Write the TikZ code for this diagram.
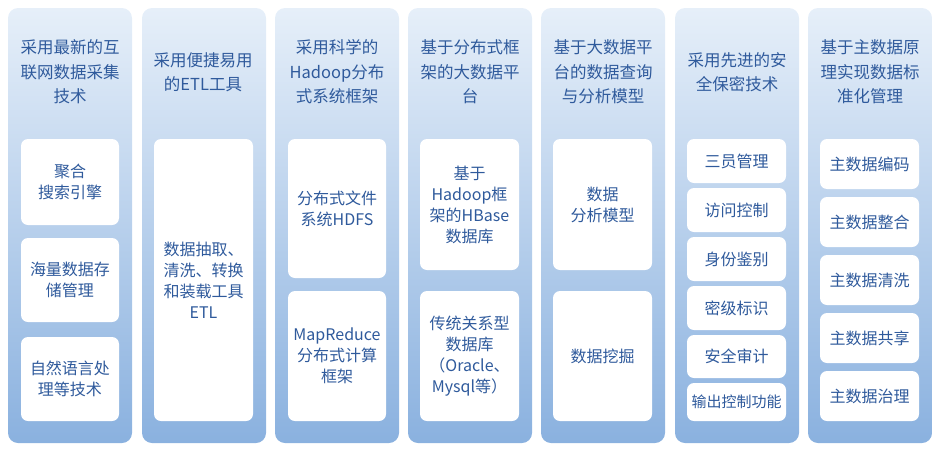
\documentclass[tikz,border=0pt]{standalone}
\usepackage{fontspec}
\setmainfont{Noto Sans CJK SC}
\definecolor{txt}{HTML}{2F5A9C}
\definecolor{topc}{HTML}{E6EFF9}
\definecolor{botc}{HTML}{8AB1DF}
\begin{document}
\begin{tikzpicture}[x=1pt,y=-1pt,
  col/.style={rounded corners=10pt,top color=topc,bottom color=botc,draw=none},
  inbox/.style={rounded corners=7pt,fill=white,draw=none},
  lab/.style={text=txt,font=\fontsize{16}{21}\selectfont,align=center,inner sep=0pt},
  tlab/.style={text=txt,font=\fontsize{16.5}{24.5}\selectfont,align=center,inner sep=0pt}]
\useasboundingbox (0,0) rectangle (940,453);
\foreach \x [count=\i] in {8,142,275,408,541,675,808}{
  \shade[col] (\x,8) rectangle ++(124,435);
}
% titles
\node[tlab] (t1) at (70,72) {采用最新的互\\联网数据采集\\技术};
\node[tlab] (t2) at (203,72) {采用便捷易用\\的ETL工具};
\node[tlab] (t3) at (337,72) {采用科学的\\Hadoop分布\\式系统框架};
\node[tlab] (t4) at (470,72) {基于分布式框\\架的大数据平\\台};
\node[tlab] (t5) at (603,72) {基于大数据平\\台的数据查询\\与分析模型};
\node[tlab] (t6) at (737,72) {采用先进的安\\全保密技术};
\node[tlab] (t7) at (870,72) {基于主数据原\\理实现数据标\\准化管理};
% inner boxes
\newcommand{\ibox}[6]{\fill[inbox] (#2,#3) rectangle (#4,#5); \node[lab] (#1) at ({(#2+#4)/2},{(#3+#5)/2}) {#6};}
\ibox{a1}{21}{139}{119}{225}{聚合\\搜索引擎}
\ibox{a2}{21}{238}{119}{322}{海量数据存\\储管理}
\ibox{a3}{21}{337}{119}{421}{自然语言处\\理等技术}
\ibox{b1}{154}{139}{253}{421}{数据抽取、\\清洗、转换\\和装载工具\\ETL}
\ibox{c1}{288}{139}{386}{278}{分布式文件\\系统HDFS}
\ibox{c2}{288}{291}{386}{421}{MapReduce\\分布式计算\\框架}
\ibox{d1}{420}{139}{519}{270}{基于\\Hadoop框\\架的HBase\\数据库}
\ibox{d2}{420}{291}{519}{421}{传统关系型\\数据库\\（Oracle、\\Mysql等）}
\ibox{e1}{553}{139}{652}{270}{数据\\分析模型}
\ibox{e2}{553}{291}{652}{421}{数据挖掘}
\ibox{f1}{687}{139}{786}{183}{三员管理}
\ibox{f2}{687}{188}{786}{232}{访问控制}
\ibox{f3}{687}{237}{786}{281}{身份鉴别}
\ibox{f4}{687}{286}{786}{330}{密级标识}
\ibox{f5}{687}{335}{786}{378}{安全审计}
\ibox{f6}{687}{383}{786}{421}{\fontsize{15}{18}\selectfont 输出控制功能}
\ibox{g1}{820}{139}{919}{189}{主数据编码}
\ibox{g2}{820}{197}{919}{247}{主数据整合}
\ibox{g3}{820}{255}{919}{305}{主数据清洗}
\ibox{g4}{820}{313}{919}{363}{主数据共享}
\ibox{g5}{820}{371}{919}{421}{主数据治理}
\end{tikzpicture}
\end{document}
